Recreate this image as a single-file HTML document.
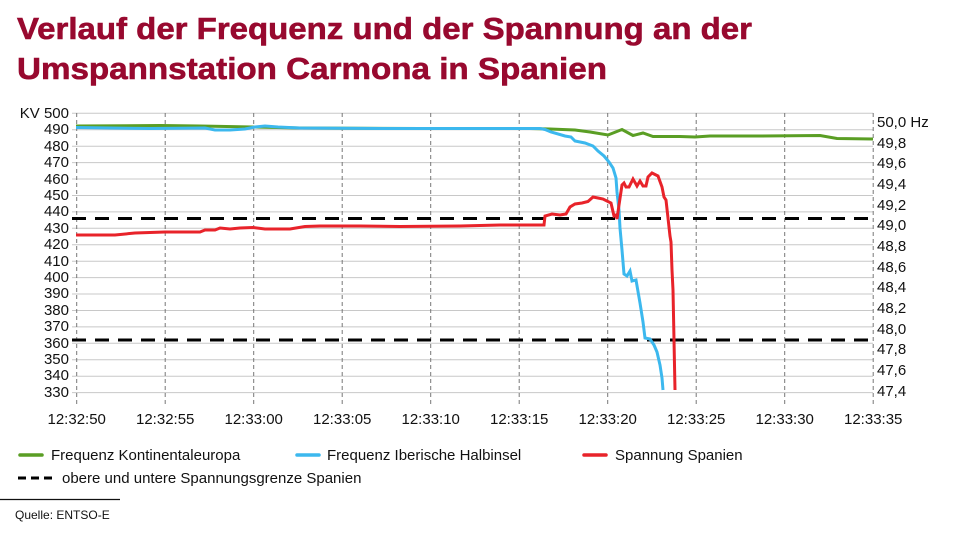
<!DOCTYPE html>
<html><head><meta charset="utf-8"><style>
html,body{margin:0;padding:0;background:#fff;}
svg{display:block;font-family:"Liberation Sans",Arial,sans-serif;}
</style></head><body>
<svg width="955" height="537" viewBox="0 0 955 537" xmlns="http://www.w3.org/2000/svg">
<rect width="955" height="537" fill="#fff"/>
<g fill="#98092f" font-weight="bold" font-size="31" stroke="#98092f" stroke-width="0.6">
<text x="17" y="39" textLength="735" lengthAdjust="spacingAndGlyphs">Verlauf der Frequenz und der Spannung an der</text>
<text x="17" y="79" textLength="590" lengthAdjust="spacingAndGlyphs">Umspannstation Carmona in Spanien</text>
</g>
<g stroke="#c8c8c8" stroke-width="1">
<line x1="72" x2="873" y1="113.3" y2="113.3"/><line x1="72" x2="873" y1="129.7" y2="129.7"/><line x1="72" x2="873" y1="146.2" y2="146.2"/><line x1="72" x2="873" y1="162.6" y2="162.6"/><line x1="72" x2="873" y1="179" y2="179"/><line x1="72" x2="873" y1="195.5" y2="195.5"/><line x1="72" x2="873" y1="211.9" y2="211.9"/><line x1="72" x2="873" y1="228.3" y2="228.3"/><line x1="72" x2="873" y1="244.7" y2="244.7"/><line x1="72" x2="873" y1="261.2" y2="261.2"/><line x1="72" x2="873" y1="277.6" y2="277.6"/><line x1="72" x2="873" y1="294" y2="294"/><line x1="72" x2="873" y1="310.5" y2="310.5"/><line x1="72" x2="873" y1="326.9" y2="326.9"/><line x1="72" x2="873" y1="343.3" y2="343.3"/><line x1="72" x2="873" y1="359.8" y2="359.8"/><line x1="72" x2="873" y1="376.2" y2="376.2"/><line x1="72" x2="873" y1="392.6" y2="392.6"/>
</g>
<g stroke="#777" stroke-width="1" stroke-dasharray="4,3">
<line x1="76.7" x2="76.7" y1="113" y2="405"/><line x1="165.2" x2="165.2" y1="113" y2="405"/><line x1="253.7" x2="253.7" y1="113" y2="405"/><line x1="342.2" x2="342.2" y1="113" y2="405"/><line x1="430.7" x2="430.7" y1="113" y2="405"/><line x1="519.2" x2="519.2" y1="113" y2="405"/><line x1="607.7" x2="607.7" y1="113" y2="405"/><line x1="696.2" x2="696.2" y1="113" y2="405"/><line x1="784.7" x2="784.7" y1="113" y2="405"/><line x1="873.2" x2="873.2" y1="113" y2="405"/>
</g>
<g font-size="15" fill="#111" text-anchor="end">
<text x="69" y="118">KV 500</text><text x="69" y="134">490</text><text x="69" y="151">480</text><text x="69" y="167">470</text><text x="69" y="184">460</text><text x="69" y="200">450</text><text x="69" y="216">440</text><text x="69" y="233">430</text><text x="69" y="249">420</text><text x="69" y="266">410</text><text x="69" y="282">400</text><text x="69" y="298">390</text><text x="69" y="315">380</text><text x="69" y="331">370</text><text x="69" y="348">360</text><text x="69" y="364">350</text><text x="69" y="380">340</text><text x="69" y="397">330</text>
</g>
<g font-size="15" fill="#111">
<text x="877" y="127">50,0 Hz</text><text x="877" y="148">49,8</text><text x="877" y="168">49,6</text><text x="877" y="189">49,4</text><text x="877" y="210">49,2</text><text x="877" y="230">49,0</text><text x="877" y="251">48,8</text><text x="877" y="272">48,6</text><text x="877" y="292">48,4</text><text x="877" y="313">48,2</text><text x="877" y="334">48,0</text><text x="877" y="354">47,8</text><text x="877" y="375">47,6</text><text x="877" y="396">47,4</text>
</g>
<g font-size="15" fill="#111" text-anchor="middle">
<text x="76.7" y="424">12:32:50</text><text x="165.2" y="424">12:32:55</text><text x="253.7" y="424">12:33:00</text><text x="342.2" y="424">12:33:05</text><text x="430.7" y="424">12:33:10</text><text x="519.2" y="424">12:33:15</text><text x="607.7" y="424">12:33:20</text><text x="696.2" y="424">12:33:25</text><text x="784.7" y="424">12:33:30</text><text x="873.2" y="424">12:33:35</text>
</g>
<g stroke="#000" stroke-width="3" stroke-dasharray="14,9">
<line x1="72" x2="873" y1="218.5" y2="218.5"/>
<line x1="72" x2="873" y1="340" y2="340"/>
</g>
<polyline fill="none" stroke="#5a9e24" stroke-width="3" points="76,126 160,125.5 200,126 253,127 300,128 420,128.5 530,128.5 550,129 575,130 590,132 608,135 622,129.5 633,135.5 643,133 653,136.5 680,136.5 695,137 710,136 760,136 820,135.5 837,138.5 873,139"/>
<polyline fill="none" stroke="#3cb8ee" stroke-width="3" points="76,127.5 150,128.5 205,128 215,130 230,130 245,129 255,127 265,126 278,127 300,128 380,128.5 460,128.5 540,128.5 545,129.5 551,132 565,136 571,137 575,141 585,143 593,146 598,151 604,156 609,162 613,168 616,178 617,192 619,210 620,228 622,250 623,262 624,274 627,276 630,271 632,281 636,280 640,303 643,322 645,338 650,339 654,345 657,352 660,365 662,378 663,390"/>
<polyline fill="none" stroke="#e8232a" stroke-width="3" points="76,235 115,235 135,233 165,232 200,232 205,230 215,230 220,228 230,229 240,228 253,227.5 265,229 290,229 305,226.5 320,226 360,226 400,226.5 460,226 500,225 544,225 545,216 552,214 560,215 566,214 570,207 575,204 582,203 588,201.5 593,197 598,198 603,199 611,203 614,216 616,215 617,219 619,205 622,185 624,183 626,187 629,187 633,179 637,186 640,181 643,186 646,186 648,177 652,173 658,176 662,187 664,197 666,200 670,236 671,242 672,270 673,290 674,340 675,390"/>
<g stroke-width="3.5" stroke-linecap="round">
<line x1="20" x2="42" y1="455" y2="455" stroke="#5a9e24"/>
<line x1="297" x2="319" y1="455" y2="455" stroke="#3cb8ee"/>
<line x1="584" x2="606" y1="455" y2="455" stroke="#e8232a"/>
</g>
<line x1="18" x2="52" y1="478" y2="478" stroke="#000" stroke-width="3" stroke-dasharray="8,5"/>
<g font-size="15" fill="#111">
<text x="51" y="460">Frequenz Kontinentaleuropa</text>
<text x="327" y="460">Frequenz Iberische Halbinsel</text>
<text x="615" y="460">Spannung Spanien</text>
<text x="62" y="483">obere und untere Spannungsgrenze Spanien</text>
</g>
<line x1="0" x2="120" y1="499.5" y2="499.5" stroke="#111" stroke-width="1.2"/>
<text x="15" y="519" font-size="12" fill="#111">Quelle: ENTSO-E</text>
</svg>
</body></html>
